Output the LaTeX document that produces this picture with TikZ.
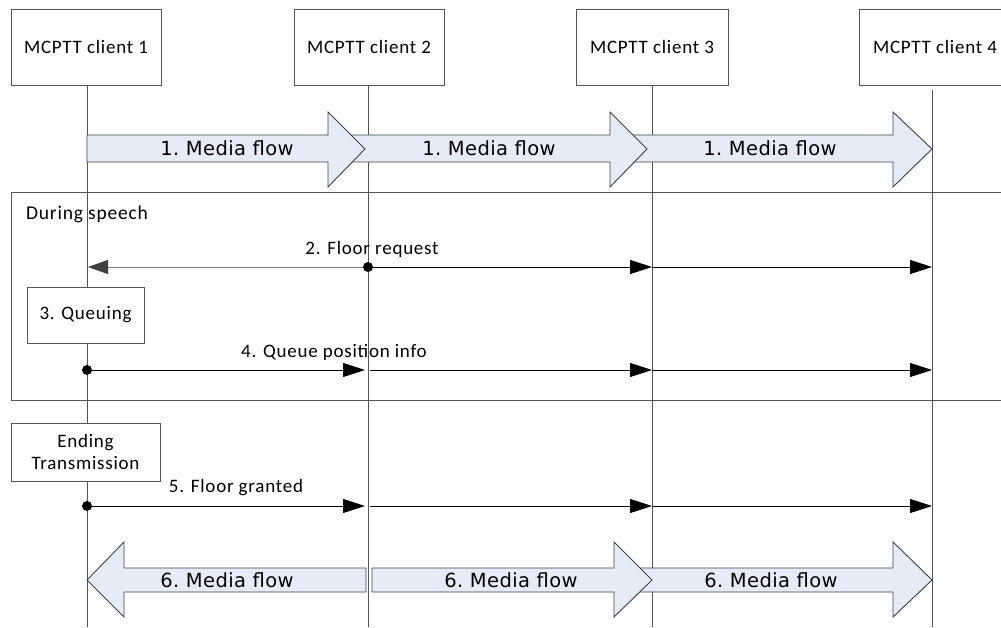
\documentclass[tikz,border=0pt]{standalone}
\usepackage{fontspec}
\setmainfont{Carlito}
\newfontfamily\lab{Carlito}[LetterSpace=4]
\newfontfamily\mf{DejaVu Sans}[LetterSpace=2]
\usetikzlibrary{arrows.meta}
\definecolor{linegray}{RGB}{85,85,85}
\definecolor{flowfill}{RGB}{230,236,247}
\definecolor{flowline}{RGB}{64,64,64}
\begin{document}
\begin{tikzpicture}[x=1pt,y=-1pt,
  every node/.style={inner sep=0pt},
  actor/.style={draw=linegray, line width=0.9pt, fill=white, minimum width=150pt, minimum height=76pt, font=\lab\fontsize{19}{22}\selectfont},
  procbox/.style={draw=linegray, line width=0.9pt, fill=white, align=center, font=\lab\fontsize{19}{22}\selectfont},
  life/.style={draw=linegray, line width=0.9pt},
  msg/.style={draw=black, line width=0.9pt, -{Triangle[length=22pt,width=14pt]}},
  backmsg/.style={draw=gray, line width=0.9pt, -{Triangle[length=20pt,width=14pt,fill=flowline,color=flowline]}},
  msglabel/.style={font=\lab\fontsize{19}{22}\selectfont},
  flow/.style={draw=flowline, line width=0.9pt, fill=flowfill},
  flowlabel/.style={font=\mf\fontsize{19.5}{22}\selectfont},
  dot/.style={fill=black, circle, minimum size=10pt},
  frame/.style={draw=linegray, line width=0.9pt}
]
\useasboundingbox (0,0) rectangle (1001,628);

% lifeline positions
\coordinate (x1) at (87,0);
\coordinate (x2) at (368,0);
\coordinate (x3) at (652,0);
\coordinate (x4) at (932,0);
% message rows
\coordinate (yb) at (0,627);
\coordinate (y2) at (0,267);
\coordinate (y4) at (0,370);
\coordinate (y5) at (0,506);

% frame
\draw[frame] (1012,192) -- (11,192) -- (11,400) -- (1012,400);
\node[anchor=west, font=\lab\fontsize{19.5}{22}\selectfont] (ds) at (26,214) {During speech};

% actors
\node[actor] (c1) at (86,47) {MCPTT client 1};
\node[actor] (c2) at (369,47) {MCPTT client 2};
\node[actor, minimum width=152pt] (c3) at (652,47) {MCPTT client 3};
\node[actor, minimum width=152pt] (c4) at (935,47) {MCPTT client 4};
\coordinate (t4) at (932,90);

% lifelines
\draw[life] (x1 |- c1.south) -- (x1 |- yb);
\draw[life] (x2 |- c2.south) -- (x2 |- yb);
\draw[life] (x3 |- c3.south) -- (x3 |- yb);
\draw[life] (t4) -- (x4 |- yb);

% 1. media flows
\draw[flow] (630,135) -- (893,135) -- (893,112) -- (932,149) -- (893,187) -- (893,162) -- (630,162) -- cycle;
\draw[flow] (345,135) -- (610,135) -- (610,112) -- (647,149) -- (610,187) -- (610,162) -- (345,162) -- cycle;
\draw[flow] (87,135) -- (328,135) -- (328,112) -- (365,149) -- (328,187) -- (328,162) -- (87,162) -- cycle;
\node[flowlabel] (f1a) at (227,148) {1.\ Media flow};
\node[flowlabel] (f1b) at (489,148) {1.\ Media flow};
\node[flowlabel] (f1c) at (770,148) {1.\ Media flow};

% 2. floor request
\draw[backmsg] (x2 |- y2) -- ([xshift=1pt]x1 |- y2);
\draw[msg] (x2 |- y2) -- (x3 |- y2);
\draw[msg] (x3 |- y2) -- (x4 |- y2);
\node[dot] (d2) at (x2 |- y2) {};
\node[msglabel] (l2) at (372,249) {2. Floor request};

% 3. queuing
\node[procbox, minimum width=117pt, minimum height=56pt] (q) at (85.5,315) {3. Queuing};

% 4. queue position info
\draw[msg] (x1 |- y4) -- ([xshift=-3pt]x2 |- y4);
\draw[msg] ([xshift=2pt]x2 |- y4) -- (x3 |- y4);
\draw[msg] (x3 |- y4) -- (x4 |- y4);
\node[dot] (d4) at (x1 |- y4) {};
\node[msglabel] (l4) at (334,352) {4. Queue position info};

% ending transmission
\node[procbox, minimum width=149pt, minimum height=58pt] (et) at (85.5,452) {Ending\\Transmission};

% 5. floor granted
\draw[msg] (x1 |- y5) -- ([xshift=-3pt]x2 |- y5);
\draw[msg] ([xshift=2pt]x2 |- y5) -- (x3 |- y5);
\draw[msg] (x3 |- y5) -- (x4 |- y5);
\node[dot] (d5) at (x1 |- y5) {};
\node[msglabel] (l5) at (236,488) {5. Floor granted};

% 6. media flows
\draw[flow] (640,568) -- (893,568) -- (893,542) -- (932,580) -- (893,617) -- (893,592) -- (640,592) -- cycle;
\draw[flow] (372,568) -- (614,568) -- (614,542) -- (652,580) -- (614,617) -- (614,592) -- (372,592) -- cycle;
\draw[flow] (366,568) -- (124,568) -- (124,542) -- (87,580) -- (124,617) -- (124,592) -- (366,592) -- cycle;
\node[flowlabel] (f6a) at (227,580) {6.\ Media flow};
\node[flowlabel] (f6b) at (511,580) {6.\ Media flow};
\node[flowlabel] (f6c) at (771,580) {6.\ Media flow};
\end{tikzpicture}
\end{document}
